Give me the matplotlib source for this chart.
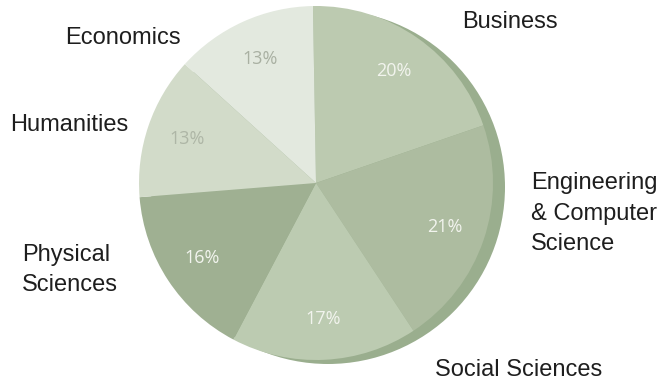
import numpy as np
import matplotlib.pyplot as plt
from matplotlib.patches import Circle

# share of degrees by field, clockwise from the top
fields = ["Business", "Engineering\n& Computer\nScience", "Social Sciences",
          "Physical\nSciences", "Humanities", "Economics"]
shares = [20, 21, 17, 16, 13, 13]
colors = ["#bccab0", "#adbca0", "#bccbb1", "#9fb092", "#d2dbc9", "#e3e9df"]
pct_colors = ["#f2f4ee", "#f2f4ee", "#f2f4ee", "#f2f4ee", "#aeb6a6", "#a9b0a2"]

# where the field names sit (pixel coords, y down)
label_pos = [(462, 22), (531, 214), (435, 370), (22, 270), (10, 125), (65, 38)]

W, H = 660, 381
cx, cy, r = 316, 198, 177

fig = plt.figure(figsize=(W / 100, H / 100), dpi=100, facecolor="white")
ax = fig.add_axes([0, 0, 1, 1])

# darker rim peeking out behind the disc
ax.add_patch(Circle((cx + 12, cy - 4), r, facecolor="#9aae8e", edgecolor="none", zorder=0))

wedges, _, autotexts = ax.pie(shares, colors=colors, startangle=91, counterclock=False,
                              center=(cx, cy), radius=r, autopct="%d%%", pctdistance=0.77,
                              wedgeprops=dict(linewidth=0, zorder=1),
                              textprops=dict(fontsize=13, family="Open Sans"))
for t, c in zip(autotexts, pct_colors):
    t.set_color(c)

for name, (x, y) in zip(fields, label_pos):
    ax.text(x, H - y, name, fontsize=17, family="Liberation Sans", color="#1e1e1e",
            ha="left", va="center", linespacing=1.5)

ax.set_xlim(0, W)
ax.set_ylim(0, H)
ax.set_aspect("equal")
ax.axis("off")

fig.savefig("out.png", dpi=100, facecolor="white")
